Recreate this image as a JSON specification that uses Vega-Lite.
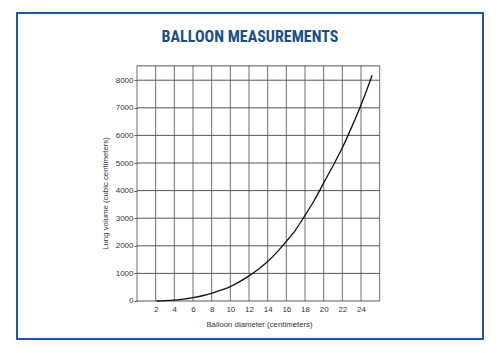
{
  "$schema": "https://vega.github.io/schema/vega-lite/v6.json",
  "width": 466,
  "height": 326,
  "autosize": {"type": "none"},
  "padding": {"left": 17, "top": 13, "right": 17, "bottom": 14},
  "background": "white",
  "title": {
    "text": "BALLOON MEASUREMENTS",
    "font": "Roboto Condensed, Roboto, sans-serif",
    "fontWeight": "bold",
    "fontSize": 16,
    "color": "#1d4f85",
    "anchor": "middle",
    "baseline": "alphabetic",
    "offset": -45
  },
  "config": {
    "view": {"stroke": "#1f5a92", "strokeWidth": 2},
    "axis": {
      "labelFont": "Liberation Sans",
      "titleFont": "Liberation Sans",
      "labelColor": "#333333",
      "titleColor": "#333333",
      "labelFontSize": 8,
      "titleFontSize": 7.8,
      "titleFontWeight": "normal",
      "grid": false,
      "domain": false
    }
  },
  "datasets": {
    "curve": [
      {"diameter": 2.1, "volume": 0},
      {"diameter": 3, "volume": 10},
      {"diameter": 4, "volume": 30},
      {"diameter": 5, "volume": 65},
      {"diameter": 6, "volume": 120},
      {"diameter": 7, "volume": 190},
      {"diameter": 8, "volume": 280},
      {"diameter": 9, "volume": 390},
      {"diameter": 10, "volume": 520},
      {"diameter": 11, "volume": 700},
      {"diameter": 12, "volume": 910},
      {"diameter": 13, "volume": 1150},
      {"diameter": 14, "volume": 1430},
      {"diameter": 15, "volume": 1770},
      {"diameter": 16, "volume": 2160},
      {"diameter": 17, "volume": 2580},
      {"diameter": 18, "volume": 3100},
      {"diameter": 19, "volume": 3650},
      {"diameter": 20, "volume": 4280},
      {"diameter": 21, "volume": 4900},
      {"diameter": 22, "volume": 5550},
      {"diameter": 23, "volume": 6300},
      {"diameter": 24, "volume": 7100},
      {"diameter": 25.2, "volume": 8180}
    ],
    "vlines": [
      {"diameter": 0}, {"diameter": 2}, {"diameter": 4}, {"diameter": 6}, {"diameter": 8}, {"diameter": 10}, {"diameter": 12},
      {"diameter": 14}, {"diameter": 16}, {"diameter": 18}, {"diameter": 20}, {"diameter": 22}, {"diameter": 24}, {"diameter": 26}
    ],
    "hlines": [
      {"volume": 0}, {"volume": 1000}, {"volume": 2000}, {"volume": 3000}, {"volume": 4000},
      {"volume": 5000}, {"volume": 6000}, {"volume": 7000}, {"volume": 8000}, {"volume": 8520}
    ]
  },
  "encoding": {
    "x": {"type": "quantitative", "scale": {"domain": [-12.857, 37.07], "nice": false, "zero": false},
      "axis": {"values": [2, 4, 6, 8, 10, 12, 14, 16, 18, 20, 22, 24], "orient": "bottom", "offset": -38, "ticks": false, "labelPadding": 4,
        "title": "Balloon diameter (centimeters)", "titleX": 242, "titleY": 23, "titleBaseline": "middle"}},
    "y": {"type": "quantitative", "scale": {"domain": [-1377, 10435], "nice": false, "zero": false},
      "axis": {"values": [0, 1000, 2000, 3000, 4000, 5000, 6000, 7000, 8000], "format": "d", "orient": "left", "offset": -120, "ticks": true, "tickSize": 3, "tickColor": "#555555", "labelPadding": 1,
        "title": "Lung volume (cubic centimeters)", "titleX": -32, "titleY": 180, "titleBaseline": "middle", "titleAngle": 270}}
  },
  "layer": [
    {
      "data": {"name": "vlines"},
      "mark": {"type": "rule", "color": "#6e6e6e", "strokeWidth": 1},
      "encoding": {
        "x": {"field": "diameter"},
        "y": {"datum": 0},
        "y2": {"datum": 8520}
      }
    },
    {
      "data": {"name": "hlines"},
      "mark": {"type": "rule", "color": "#555555", "strokeWidth": 1},
      "encoding": {
        "y": {"field": "volume"},
        "x": {"datum": 0},
        "x2": {"datum": 26}
      }
    },
    {
      "data": {"name": "curve"},
      "mark": {"type": "line", "color": "#111111", "strokeWidth": 1.3, "interpolate": "monotone"},
      "encoding": {
        "x": {"field": "diameter"},
        "y": {"field": "volume"}
      }
    }
  ]
}
